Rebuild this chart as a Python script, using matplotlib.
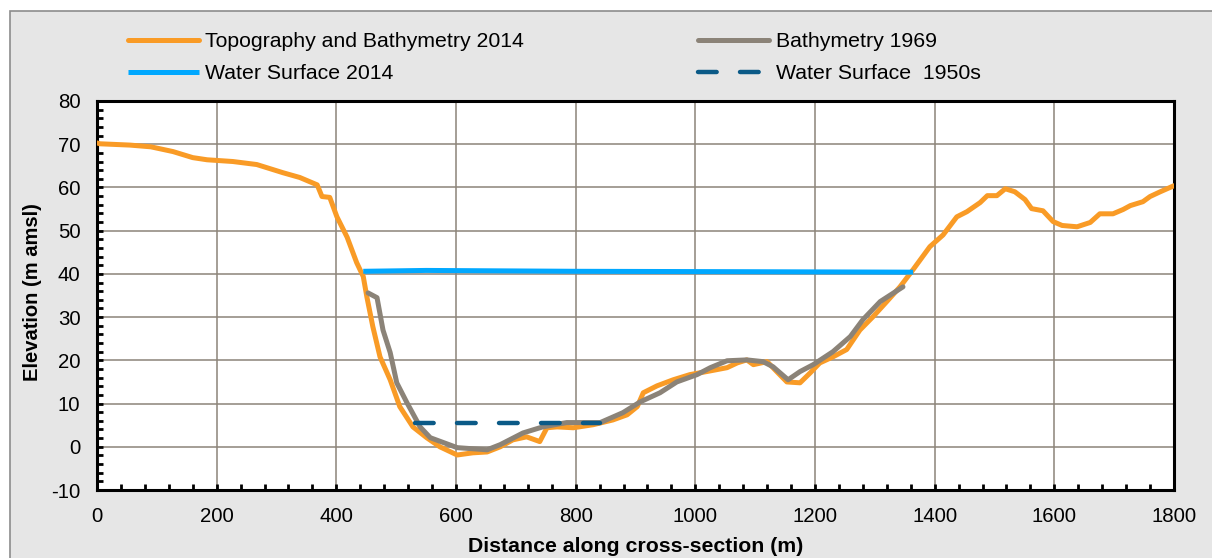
import matplotlib
matplotlib.use("Agg")
import matplotlib.pyplot as plt
from matplotlib.patches import Rectangle

# values (distance in m, elevation in m amsl)
topo_dist = [0, 5, 55, 90, 127, 160, 184, 227, 267, 311, 339, 368, 376, 389, 401, 418,
             434, 445, 451, 461, 473, 490, 506, 528, 551, 573, 602, 628, 652, 674, 695,
             718, 740, 752, 769, 796, 829, 862, 886, 903, 913, 936, 963, 991, 1019,
             1053, 1070, 1086, 1097, 1120, 1136, 1153, 1175, 1192, 1208, 1230, 1253,
             1275, 1297, 1320, 1342, 1364, 1392, 1414, 1437, 1454, 1476, 1488, 1504,
             1518, 1534, 1551, 1562, 1581, 1598, 1613, 1638, 1660, 1676, 1698, 1715,
             1727, 1748, 1760, 1777, 1800]
topo_elev = [70.3, 70.1, 69.8, 69.4, 68.3, 66.9, 66.4, 66.0, 65.3, 63.4, 62.3, 60.6,
             57.9, 57.7, 53.2, 48.5, 42.6, 39.4, 34.7, 27.8, 20.8, 15.5, 9.3, 4.6, 2.1,
             0.0, -1.9, -1.4, -1.2, 0.0, 1.6, 2.3, 1.2, 4.4, 4.6, 4.4, 5.1, 6.2, 7.4,
             9.3, 12.5, 14.1, 15.5, 16.7, 17.4, 18.3, 19.4, 20.1, 19.0, 19.7, 17.4,
             15.0, 14.8, 17.1, 19.4, 20.8, 22.5, 27.0, 30.1, 33.6, 37.0, 41.0, 46.3,
             49.0, 53.2, 54.4, 56.5, 58.1, 58.1, 59.7, 59.0, 57.2, 55.1, 54.6, 52.1,
             51.2, 50.9, 51.9, 53.9, 53.9, 54.9, 55.8, 56.7, 57.9, 59.0, 60.4]

bathy_dist = [453, 468, 478, 490, 501, 518, 540, 557, 602, 652, 674, 712, 745, 785, 841,
              879, 908, 941, 969, 1003, 1025, 1053, 1086, 1113, 1130, 1155, 1175, 1197,
              1230, 1259, 1280, 1309, 1347]
bathy_elev = [35.6, 34.5, 27.0, 21.8, 14.8, 10.2, 4.6, 2.1, -0.2, -0.7, 0.5, 3.2, 4.6,
              5.6, 5.6, 7.9, 10.4, 12.5, 15.0, 16.7, 18.3, 19.9, 20.1, 19.7, 18.5, 15.5,
              17.4, 19.0, 22.0, 25.5, 29.4, 33.6, 37.0]

ws2014_dist = [445, 550, 800, 1100, 1364]
ws2014_elev = [40.6, 40.8, 40.6, 40.5, 40.4]

ws1950_dist = [531, 841]
ws1950_elev = [5.6, 5.6]

orange = "#F99B26"
grey = "#8B8378"
light_blue = "#00A8FF"
dark_blue = "#0B5A87"

plt.rcParams["font.family"] = ["Liberation Sans", "DejaVu Sans"]
plt.rcParams["axes.unicode_minus"] = False  # plain hyphen for -10

fig = plt.figure(figsize=(12.12, 5.58), dpi=100, facecolor="white")
# grey chart area with a thin border, like the spreadsheet chart
fig.patches.append(Rectangle((10 / 1212, -0.01), 1.02, 1 - 11 / 558 + 0.01,
                             transform=fig.transFigure, facecolor="#E6E6E6",
                             edgecolor="#8C8C8C", linewidth=1.2, zorder=-10))

ax = fig.add_axes([97 / 1212, 68 / 558, (1174 - 97) / 1212, (490 - 101) / 558])
ax.set_facecolor("white")

ax.plot(topo_dist, topo_elev, color=orange, lw=3.6, solid_capstyle="round",
        solid_joinstyle="round", label="Topography and Bathymetry 2014", zorder=3)
ax.plot(ws2014_dist, ws2014_elev, color=light_blue, lw=3.6, solid_capstyle="butt",
        label="Water Surface 2014", zorder=3)
ax.plot(bathy_dist, bathy_elev, color=grey, lw=3.6, solid_capstyle="round",
        solid_joinstyle="round", label="Bathymetry 1969", zorder=4)
ax.plot(ws1950_dist, ws1950_elev, color=dark_blue, lw=3.2, linestyle=(0, (4.2, 5.25)),
        dash_capstyle="round", label="Water Surface  1950s", zorder=5)

ax.set_xlim(0, 1800)
ax.set_ylim(-10, 80)
ax.set_xticks(range(0, 1801, 200))
ax.set_yticks(range(-10, 81, 10))
ax.set_xticks(range(0, 1801, 40), minor=True)
ax.set_yticks(range(-10, 81, 2), minor=True)
ax.grid(True, which="major", color="#8C8479", linewidth=1.1)
ax.set_axisbelow(True)
ax.tick_params(which="both", direction="in", width=2, color="black",
               top=False, right=False)
ax.tick_params(which="major", length=4, labelsize=14.7)
ax.tick_params(which="minor", length=4)
ax.tick_params(axis="x", which="major", pad=12)
ax.tick_params(axis="y", which="major", pad=12)
for side in ["left", "bottom", "top", "right"]:
    ax.spines[side].set_linewidth(2.2)
    ax.spines[side].set_color("black")

ax.set_xlabel("Distance along cross-section (m)", fontsize=15.3, fontweight="bold")
ax.xaxis.set_label_coords(0.5, -0.121)
ax.set_ylabel("Elevation (m amsl)", fontsize=14.5, fontweight="bold")
ax.yaxis.set_label_coords(-0.051, 0.51)

handles, labels = ax.get_legend_handles_labels()
fig.legend(handles, labels, ncol=2,
           loc="upper left", bbox_to_anchor=(128 / 1212, 1 - 32 / 558),
           frameon=False, fontsize=15.3, handlelength=3.34, handletextpad=0.3,
           columnspacing=8.2, labelspacing=0.62, borderpad=0, borderaxespad=0)

fig.savefig("out.png", dpi=100, facecolor="white")
